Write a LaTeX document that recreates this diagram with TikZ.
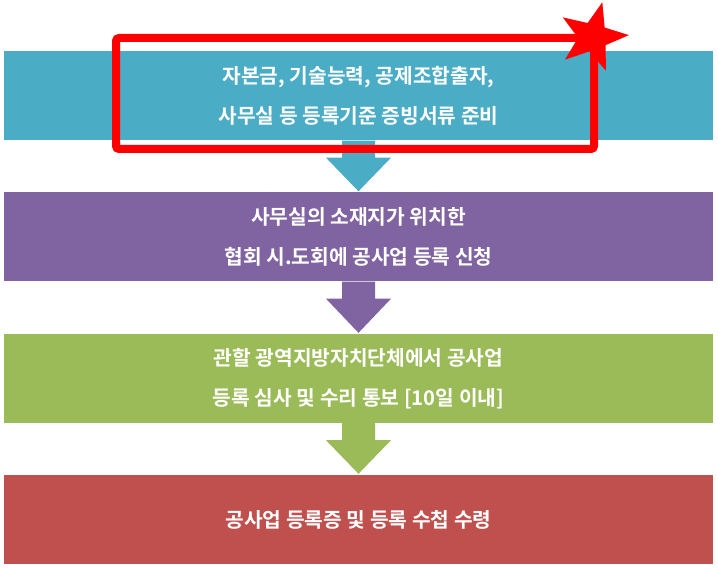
\documentclass[tikz,border=0pt]{standalone}
\usepackage{fontspec}
\usetikzlibrary{calc}
\newfontfamily\krfont{Noto Sans CJK KR}[BoldFont={* Bold}]
\definecolor{cteal}{HTML}{4BACC6}
\definecolor{cpurple}{HTML}{8064A2}
\definecolor{cgreen}{HTML}{9BBB59}
\definecolor{cred}{HTML}{C0504D}
\definecolor{pure}{HTML}{FF0000}
\tikzset{
  band/.style={rectangle, draw=none, fill=#1, minimum width=709pt, minimum height=89pt,
    inner sep=0pt, text=white, align=center,
    font=\krfont\bfseries\fontsize{20.3pt}{40pt}\selectfont},
  flowarrow/.style={fill=#1, draw=none},
  highlight/.style={draw=pure, line width=8pt, rounded corners=3pt}
}
\begin{document}
\begin{tikzpicture}[x=1pt,y=-1pt]
\useasboundingbox (0,0) rectangle (718,569);
\node[band=cteal] (b1) at (358.5,96) {자본금, 기술능력, 공제조합출자,\\사무실 등 등록기준 증빙서류 준비};
\node[band=cpurple] (b2) at (358.5,237) {사무실의 소재지가 위치한\\협회 시.도회에 공사업 등록 신청};
\node[band=cgreen] (b3) at (358.5,378.5) {관할 광역지방자치단체에서 공사업\\등록 심사 및 수리 통보 [10일 이내]};
\node[band=cred] (b4) at (358.5,519.5) {공사업 등록증 및 등록 수첩 수령};
% arrows
\foreach \a/\b/\c in {b1/b2/cteal, b2/b3/cpurple, b3/b4/cgreen}{
  \fill[flowarrow=\c]
    ($(\a.south)+(-16.5,0)$) -- ($(\a.south)+(16.5,0)$)
    -- ($(\a.south)+(16.5,17)$) -- ($(\a.south)+(32.5,17)$)
    -- ($(\b.north)+(0,-1)$)
    -- ($(\a.south)+(-32.5,17)$) -- ($(\a.south)+(-16.5,17)$) -- cycle;
}
% highlight rectangle
\coordinate (hl1) at (116,38);
\coordinate (hl2) at (594,149);
\draw[highlight] (hl1) rectangle (hl2);
% star
\coordinate (starc) at (593,37);
\fill[pure, shift={(starc)}] (-3:36)
  \foreach \k in {0,...,4}{ -- ({-39-72*\k}:15) -- ({-75-72*\k}:36) } -- cycle;
\end{tikzpicture}
\end{document}
